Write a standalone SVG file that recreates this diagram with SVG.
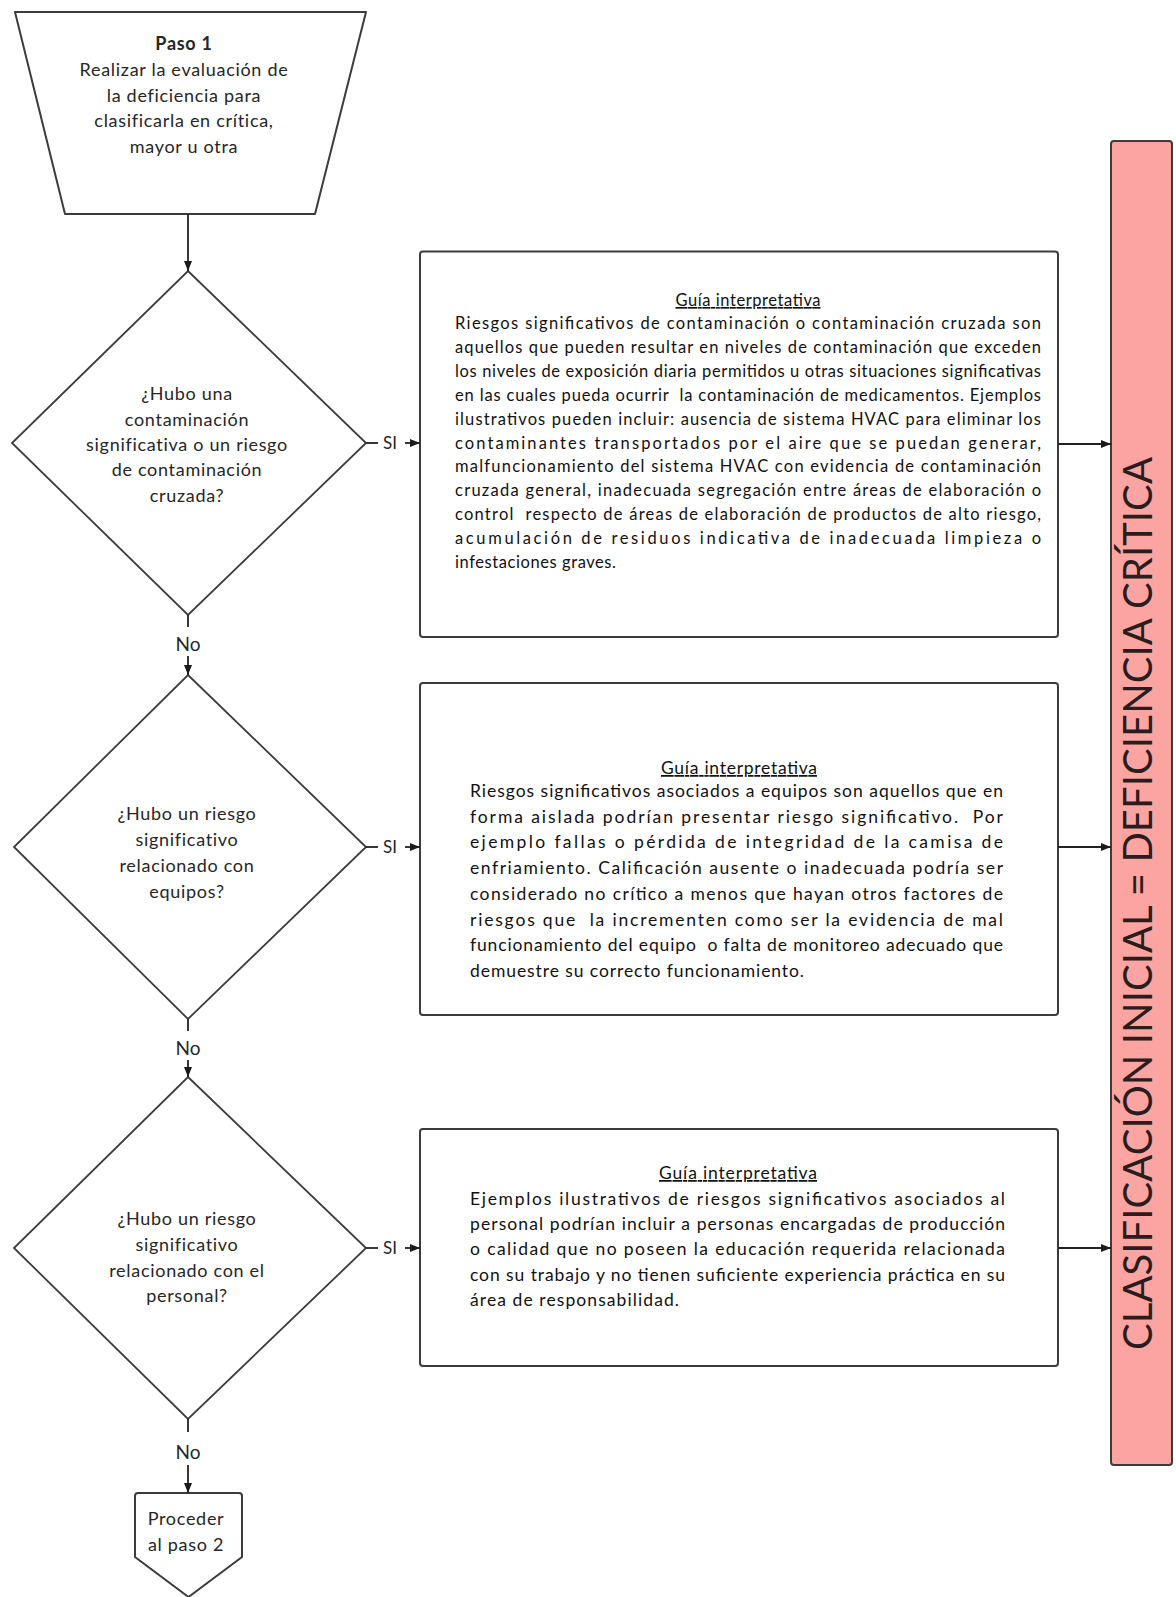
<svg xmlns="http://www.w3.org/2000/svg" width="1176" height="1597" viewBox="0 0 1176 1597">
  <defs>
    <marker id="ah" markerUnits="userSpaceOnUse" markerWidth="11" markerHeight="9" refX="10" refY="4.5" orient="auto">
      <path d="M0,0.5 L10,4.5 L0,8.5 z" fill="#1a1a1a"/>
    </marker>
    <style>
      .shape { fill: #ffffff; stroke: #3c3c3c; stroke-width: 2; }
      .diam { fill: #ffffff; stroke: #3c3c3c; stroke-width: 1.8; }
      .conn { stroke: #222222; stroke-width: 1.8; fill: none; }
      .arr { marker-end: url(#ah); }
      .t { font-family: "Lato", "Open Sans", sans-serif; }
      .q { font-family: "Lato", "Open Sans", sans-serif; font-size: 18px; letter-spacing: 0.7px; fill: #262626; text-anchor: middle; }
      .lbl { font-family: "Lato", "Open Sans", sans-serif; fill: #262626; }
      .b1 { font-family: "Lato", "Open Sans", sans-serif; font-size: 16.5px; fill: #111111; }
      .b2 { font-family: "Lato", "Open Sans", sans-serif; font-size: 17.5px; fill: #111111; }
      .ttl { text-decoration: underline; text-anchor: middle; }
      .pre { white-space: pre; }
    </style>
  </defs>
  <rect x="0" y="0" width="1176" height="1597" fill="#ffffff"/>

  <g id="paso1">
    <polygon class="shape" points="15,12 366,12 315,214 65,214" stroke-linejoin="round"/>
    <text class="q" x="184" y="50" font-weight="bold" letter-spacing="0.3">Paso 1</text>
    <text class="q" x="184" y="76">Realizar la evaluación de</text>
    <text class="q" x="184" y="102">la deficiencia para</text>
    <text class="q" x="184" y="127">clasificarla en crítica,</text>
    <text class="q" x="184" y="153">mayor u otra</text>
  </g>

  <g id="decision1">
    <polygon class="diam" points="188,271 366,443 188,615 12,443"/>
    <text class="q" x="187" y="400">¿Hubo una</text>
    <text class="q" x="187" y="425.5">contaminación</text>
    <text class="q" x="187" y="451">significativa o un riesgo</text>
    <text class="q" x="187" y="476">de contaminación</text>
    <text class="q" x="187" y="502">cruzada?</text>
  </g>

  <g id="decision2">
    <polygon class="diam" points="188,675 366,847 188,1019 14,847"/>
    <text class="q" x="187" y="820">¿Hubo un riesgo</text>
    <text class="q" x="187" y="846">significativo</text>
    <text class="q" x="187" y="871.5">relacionado con</text>
    <text class="q" x="187" y="898">equipos?</text>
  </g>

  <g id="decision3">
    <polygon class="diam" points="188,1077 366,1248 188,1419 14,1248"/>
    <text class="q" x="187" y="1225">¿Hubo un riesgo</text>
    <text class="q" x="187" y="1250.5">significativo</text>
    <text class="q" x="187" y="1276.5">relacionado con el</text>
    <text class="q" x="187" y="1301.5">personal?</text>
  </g>

  <g id="paso2">
    <path class="shape" d="M138,1493 L239,1493 Q242,1493 242,1496 L242,1557 L188.5,1597 L135,1557 L135,1496 Q135,1493 138,1493 Z"/>
    <text class="q" x="186" y="1525" font-size="18.5">Proceder</text>
    <text class="q" x="186" y="1551" font-size="18.5">al paso 2</text>
  </g>

  <g id="guia1">
    <rect class="shape" x="420" y="251.5" width="638" height="385.5" rx="3"/>
    <text class="b1 ttl" x="748" y="306" textLength="145" lengthAdjust="spacing">Guía interpretativa</text>
    <text class="b1" x="455" y="329" textLength="586" lengthAdjust="spacing">Riesgos significativos de contaminación o contaminación cruzada son</text>
    <text class="b1" x="455" y="352.9" textLength="586" lengthAdjust="spacing">aquellos que pueden resultar en niveles de contaminación que exceden</text>
    <text class="b1" x="455" y="376.8" textLength="586" lengthAdjust="spacing">los niveles de exposición diaria permitidos u otras situaciones significativas</text>
    <text class="b1 pre" x="455" y="400.7" textLength="586" lengthAdjust="spacing">en las cuales pueda ocurrir  la contaminación de medicamentos. Ejemplos</text>
    <text class="b1" x="455" y="424.6" textLength="586" lengthAdjust="spacing">ilustrativos pueden incluir: ausencia de sistema HVAC para eliminar los</text>
    <text class="b1" x="455" y="448.5" textLength="586" lengthAdjust="spacing">contaminantes transportados por el aire que se puedan generar,</text>
    <text class="b1" x="455" y="472.4" textLength="586" lengthAdjust="spacing">malfuncionamiento del sistema HVAC con evidencia de contaminación</text>
    <text class="b1" x="455" y="496.3" textLength="586" lengthAdjust="spacing">cruzada general, inadecuada segregación entre áreas de elaboración o</text>
    <text class="b1 pre" x="455" y="520.2" textLength="586" lengthAdjust="spacing">control  respecto de áreas de elaboración de productos de alto riesgo,</text>
    <text class="b1" x="455" y="544.1" textLength="586" lengthAdjust="spacing">acumulación de residuos indicativa de inadecuada limpieza o</text>
    <text class="b1" x="455" y="568" textLength="161" lengthAdjust="spacing">infestaciones graves.</text>
  </g>

  <g id="guia2">
    <rect class="shape" x="420" y="683" width="638" height="332" rx="3"/>
    <text class="b2 ttl" x="739" y="774" textLength="156" lengthAdjust="spacing">Guía interpretativa</text>
    <text class="b2" x="470" y="797" textLength="533" lengthAdjust="spacing">Riesgos significativos asociados a equipos son aquellos que en</text>
    <text class="b2 pre" x="470" y="822.7" textLength="533" lengthAdjust="spacing">forma aislada podrían presentar riesgo significativo.  Por</text>
    <text class="b2" x="470" y="848.4" textLength="533" lengthAdjust="spacing">ejemplo fallas o pérdida de integridad de la camisa de</text>
    <text class="b2" x="470" y="874.1" textLength="533" lengthAdjust="spacing">enfriamiento. Calificación ausente o inadecuada podría ser</text>
    <text class="b2" x="470" y="899.8" textLength="533" lengthAdjust="spacing">considerado no crítico a menos que hayan otros factores de</text>
    <text class="b2 pre" x="470" y="925.5" textLength="533" lengthAdjust="spacing">riesgos que  la incrementen como ser la evidencia de mal</text>
    <text class="b2 pre" x="470" y="951.2" textLength="533" lengthAdjust="spacing">funcionamiento del equipo  o falta de monitoreo adecuado que</text>
    <text class="b2" x="470" y="976.9" textLength="334" lengthAdjust="spacing">demuestre su correcto funcionamiento.</text>
  </g>

  <g id="guia3">
    <rect class="shape" x="420" y="1129" width="638" height="237" rx="3"/>
    <text class="b2 ttl" x="738" y="1179" textLength="158" lengthAdjust="spacing">Guía interpretativa</text>
    <text class="b2" x="470" y="1204.5" textLength="535" lengthAdjust="spacing">Ejemplos ilustrativos de riesgos significativos asociados al</text>
    <text class="b2" x="470" y="1229.9" textLength="535" lengthAdjust="spacing">personal podrían incluir a personas encargadas de producción</text>
    <text class="b2" x="470" y="1255.3" textLength="535" lengthAdjust="spacing">o calidad que no poseen la educación requerida relacionada</text>
    <text class="b2" x="470" y="1280.7" textLength="535" lengthAdjust="spacing">con su trabajo y no tienen suficiente experiencia práctica en su</text>
    <text class="b2" x="470" y="1306.1" textLength="209" lengthAdjust="spacing">área de responsabilidad.</text>
  </g>

  <g id="resultado">
    <rect x="1111" y="141" width="61" height="1324" rx="3" fill="#fba4a1" stroke="#3c3c3c" stroke-width="2"/>
    <text class="t" transform="translate(1152,903.5) rotate(-90)" text-anchor="middle" font-size="40" fill="#2b1d1d" textLength="893" lengthAdjust="spacing">CLASIFICACIÓN INICIAL = DEFICIENCIA CRÍTICA</text>
  </g>

  <g id="connectors">
    <line class="conn arr" x1="188" y1="214" x2="188" y2="271"/>

    <line class="conn" x1="188" y1="615" x2="188" y2="627"/>
    <text class="lbl" x="188" y="651" font-size="19" text-anchor="middle">No</text>
    <line class="conn arr" x1="188" y1="656" x2="188" y2="675"/>

    <line class="conn" x1="188" y1="1019" x2="188" y2="1031"/>
    <text class="lbl" x="188" y="1055" font-size="19" text-anchor="middle">No</text>
    <line class="conn arr" x1="188" y1="1060" x2="188" y2="1077"/>

    <line class="conn" x1="188" y1="1419" x2="188" y2="1432"/>
    <text class="lbl" x="188" y="1459" font-size="19" text-anchor="middle">No</text>
    <line class="conn arr" x1="188" y1="1465" x2="188" y2="1493"/>

    <line class="conn" x1="366" y1="443" x2="378" y2="443"/>
    <text class="lbl" x="383" y="449" font-size="17">SI</text>
    <line class="conn arr" x1="405" y1="443" x2="420" y2="443"/>

    <line class="conn" x1="366" y1="847" x2="378" y2="847"/>
    <text class="lbl" x="383" y="853" font-size="17">SI</text>
    <line class="conn arr" x1="405" y1="847" x2="420" y2="847"/>

    <line class="conn" x1="366" y1="1248" x2="378" y2="1248"/>
    <text class="lbl" x="383" y="1254" font-size="17">SI</text>
    <line class="conn arr" x1="405" y1="1248" x2="420" y2="1248"/>

    <line class="conn arr" x1="1058" y1="444" x2="1111" y2="444"/>
    <line class="conn arr" x1="1058" y1="847" x2="1111" y2="847"/>
    <line class="conn arr" x1="1058" y1="1248" x2="1111" y2="1248"/>
  </g>
</svg>
